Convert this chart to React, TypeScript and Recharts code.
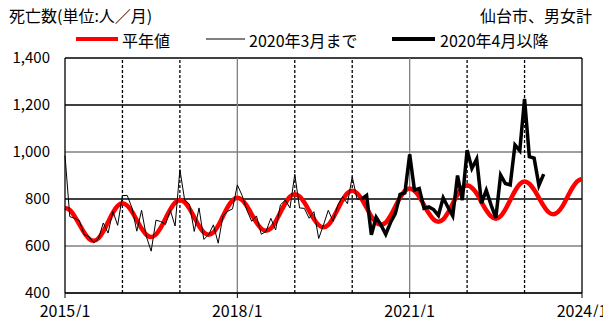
import React from 'react';
import { LineChart, Line, XAxis, YAxis, ReferenceLine } from 'recharts';

// 平年値 (monthly, 2015/1 .. 2024/1)
const normalValues = [
  762, 753, 727, 692, 657, 631, 622, 633, 662, 702, 742, 771,
  782, 772, 746, 710, 674, 648, 638, 649, 678, 717, 756, 785,
  796, 786, 759, 722, 685, 658, 648, 658, 687, 727, 766, 794,
  805, 796, 770, 735, 700, 674, 665, 675, 704, 743, 781, 810,
  820, 811, 785, 750, 715, 689, 680, 690, 719, 758, 796, 825,
  835, 825, 799, 763, 726, 700, 690, 700, 729, 768, 806, 835,
  845, 835, 810, 774, 739, 713, 703, 713, 742, 781, 819, 848,
  858, 848, 823, 787, 752, 726, 716, 727, 756, 795, 834, 863,
  874, 865, 839, 805, 770, 744, 735, 745, 772, 810, 848, 875,
  885,
];

// 2015/1 .. 2020/3
const beforeValues = [
  985, 725, 718, 708, 648, 640, 614, 632, 698, 655, 748, 688,
  815, 815, 762, 663, 752, 640, 578, 710, 704, 692, 752, 685,
  925, 795, 778, 662, 762, 628, 648, 690, 612, 728, 748, 758,
  860, 815, 752, 705, 728, 650, 662, 718, 668, 775, 795, 762,
  905, 762, 760, 718, 746, 632, 690, 752, 705, 775, 810, 780,
  895, 800, 800,
];

// 2020/3 .. 2023/5 (first point joins the earlier series)
const afterValues = [
  800, 815, 648, 722, 690, 650, 700, 738, 820, 826,
  990, 838, 845, 760, 766, 755, 730, 805, 765, 728, 900, 795,
  1008, 930, 970, 782, 837, 775, 720, 902, 866, 860, 1030, 1006,
  1226, 980, 974, 858, 906,
];

const afterStart = 62;
const xTickIndex = [0, 36, 72, 108];
const xTickLabels = ['2015/1', '2018/1', '2021/1', '2024/1'];
const yTicks = [400, 600, 800, 1000, 1200, 1400];
const dashedYearIndex = [12, 24, 48, 60, 84, 96];
const solidYearIndex = [36, 72];

const data = normalValues.map((v, i) => ({
  m: i,
  normal: v,
  before: i < beforeValues.length ? beforeValues[i] : null,
  after: i >= afterStart && i - afterStart < afterValues.length ? afterValues[i - afterStart] : null,
}));

const FONT = '"Noto Sans CJK JP", "Noto Sans", sans-serif';

const fmt = (v: number) => v.toLocaleString('en-US');

export default function App() {
  return (
    <div style={{ position: 'relative', margin: -8, width: 611, height: 325, fontFamily: FONT, background: '#fff', overflow: 'hidden' }}>
      <div style={{ position: 'absolute', left: 9, top: 3, fontSize: 16, color: '#000', whiteSpace: 'nowrap' }}>
        死亡数(単位:人／月)
      </div>
      <div style={{ position: 'absolute', left: 480, top: 3, fontSize: 16, color: '#000', whiteSpace: 'nowrap' }}>
        仙台市、男女計
      </div>
      {/* legend */}
      <svg style={{ position: 'absolute', left: 0, top: 29 }} width={611} height={20}>
        <line x1={76} x2={118} y1={10} y2={10} stroke="#ff0000" strokeWidth={4} />
        <line x1={206} x2={245} y1={10} y2={10} stroke="#000" strokeWidth={1} />
        <line x1={392} x2={435} y1={10} y2={10} stroke="#000" strokeWidth={4} />
      </svg>
      <div style={{ position: 'absolute', left: 122, top: 28, fontSize: 16, whiteSpace: 'nowrap' }}>平年値</div>
      <div style={{ position: 'absolute', left: 249, top: 28, fontSize: 16, whiteSpace: 'nowrap' }}>2020年3月まで</div>
      <div style={{ position: 'absolute', left: 440, top: 28, fontSize: 16, whiteSpace: 'nowrap' }}>2020年4月以降</div>

      <div style={{ position: 'absolute', left: 0, top: 0 }}>
        <LineChart width={640} height={325} data={data} margin={{ top: 58, right: 58, bottom: 5, left: 0 }} style={{ overflow: 'visible' }}>
          {yTicks.map((t) => (
            <ReferenceLine key={'h' + t} y={t} stroke={t === 1200 || t === 800 || t === 1400 ? '#000' : '#808080'} strokeWidth={1.3} />
          ))}
          {solidYearIndex.map((x) => (
            <ReferenceLine key={'s' + x} x={x} stroke="#808080" strokeWidth={1.3} />
          ))}
          {dashedYearIndex.map((x) => (
            <ReferenceLine key={'d' + x} x={x} stroke="#000" strokeWidth={1.3} strokeDasharray="3 2" />
          ))}
          <ReferenceLine x={108} stroke="#000" strokeWidth={1.3} />
          <XAxis
            dataKey="m"
            type="number"
            domain={[0, 108]}
            ticks={xTickIndex}
            tickFormatter={(v: number) => xTickLabels[xTickIndex.indexOf(v)] ?? ''}
            height={27}
            tickSize={5}
            tickMargin={8}
            axisLine={{ stroke: '#000', strokeWidth: 1.3 }}
            tickLine={{ stroke: '#000' }}
            tick={{ fill: '#000', fontSize: 16, fontFamily: FONT }}
            interval={0}
          />
          <YAxis
            type="number"
            domain={[400, 1400]}
            ticks={yTicks}
            tickFormatter={fmt}
            width={65}
            tickSize={0}
            tickMargin={15}
            axisLine={{ stroke: '#000', strokeWidth: 1.3 }}
            tickLine={false}
            tick={{ fill: '#000', fontSize: 15, fontFamily: FONT }}
            interval={0}
          />
          <Line dataKey="normal" type="monotone" stroke="#ff0000" strokeWidth={4.5} dot={false} isAnimationActive={false} />
          <Line dataKey="before" type="linear" stroke="#000" strokeWidth={1} dot={false} isAnimationActive={false} connectNulls={false} />
          <Line dataKey="after" type="linear" stroke="#000" strokeWidth={3.5} dot={false} isAnimationActive={false} connectNulls={false} strokeLinejoin="miter" />
        </LineChart>
      </div>
    </div>
  );
}
